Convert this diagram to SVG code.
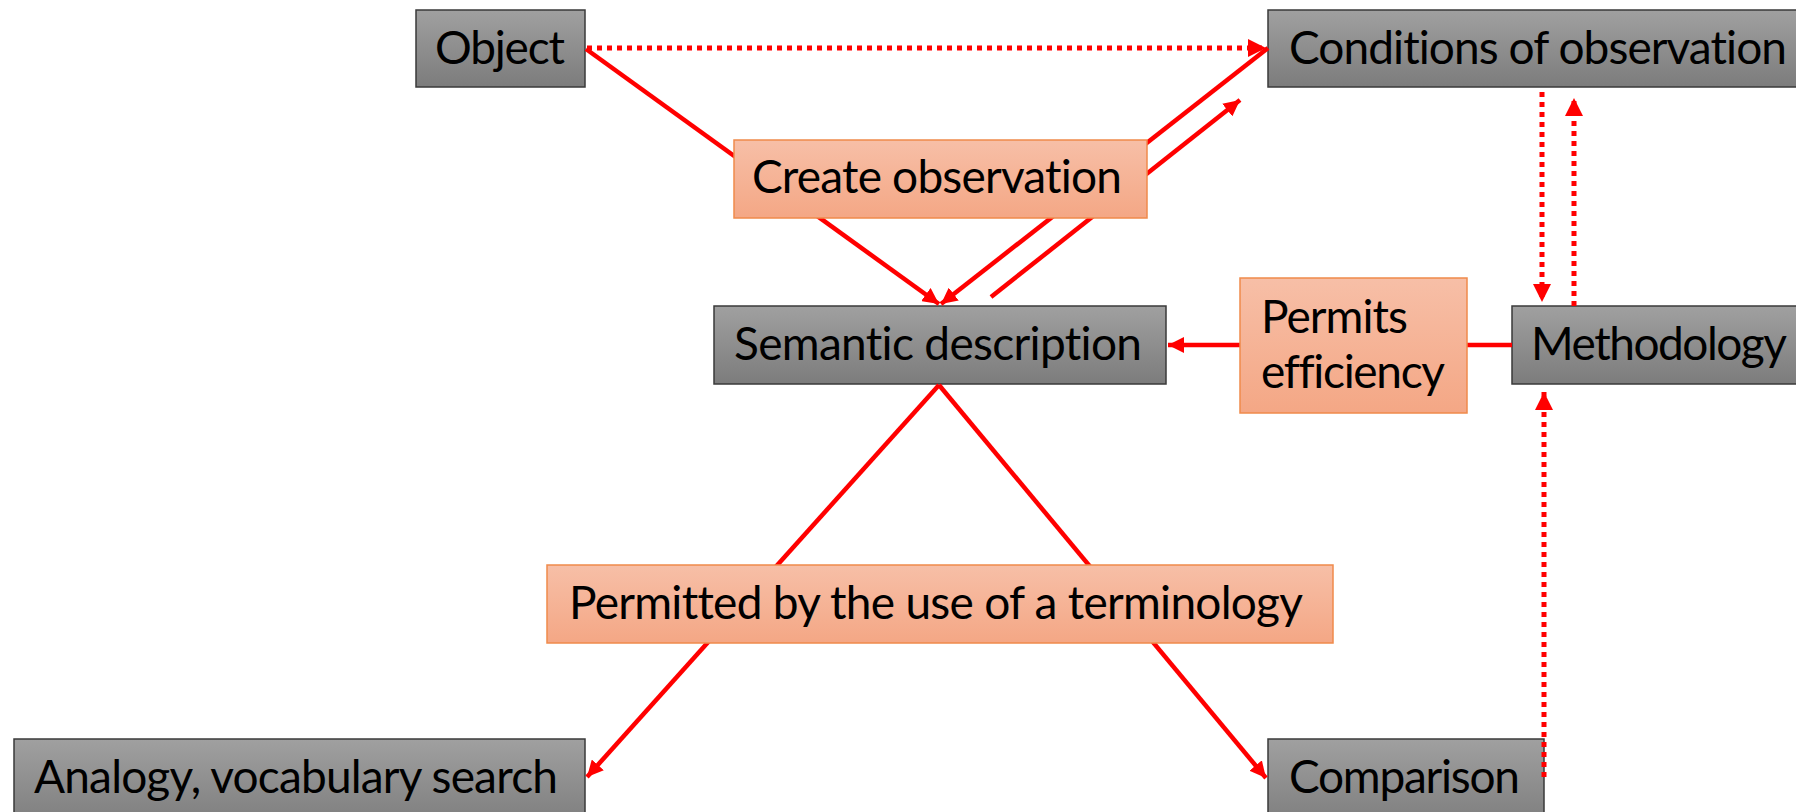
<svg xmlns="http://www.w3.org/2000/svg" width="1796" height="812" viewBox="0 0 1796 812">
  <style>
    .gray { fill: url(#gGray); stroke: #3a3a3a; stroke-width: 1.5; }
    .orange { fill: url(#gOrange); stroke: #f08a4b; stroke-width: 1.5; }
    .t { font-family: Lato, "Open Sans", "Liberation Sans", sans-serif; font-size: 46px; fill: #000; font-variant-ligatures: none; font-feature-settings: "liga" 0, "clig" 0; }
    .solid { stroke: #ff0000; stroke-width: 4.5; fill: none; }
    .dot { stroke: #ff0000; stroke-width: 5; fill: none; stroke-dasharray: 5 5; }
  </style>
  <defs>
    <linearGradient id="gGray" x1="0" y1="0" x2="0" y2="1">
      <stop offset="0" stop-color="#a0a0a0"/>
      <stop offset="1" stop-color="#7c7c7c"/>
    </linearGradient>
    <linearGradient id="gOrange" x1="0" y1="0" x2="0" y2="1">
      <stop offset="0" stop-color="#f7bfa7"/>
      <stop offset="1" stop-color="#f4a785"/>
    </linearGradient>
    <marker id="arr" viewBox="0 0 10 10" refX="10" refY="5" markerWidth="3.6" markerHeight="3.6" orient="auto" markerUnits="strokeWidth">
      <path d="M0,0 L10,5 L0,10 z" fill="#ff0000"/>
    </marker>
  </defs>

  <g id="node-object">
    <rect class="gray" x="416" y="10" width="169" height="77"/>
    <text class="t" x="435" y="64" textLength="130">Object</text>
  </g>
  <g id="node-conditions">
    <rect class="gray" x="1268" y="10" width="540" height="77"/>
    <text class="t" x="1289" y="64" textLength="498">Conditions of observation</text>
  </g>
  <g id="node-semantic">
    <rect class="gray" x="714" y="306" width="452" height="78"/>
    <text class="t" x="734" y="360" textLength="408">Semantic description</text>
  </g>
  <g id="node-methodology">
    <rect class="gray" x="1512" y="306" width="300" height="78"/>
    <text class="t" x="1531" y="360" textLength="256">Methodology</text>
  </g>
  <g id="node-analogy">
    <rect class="gray" x="14" y="739" width="571" height="90"/>
    <text class="t" x="34" y="793" textLength="524">Analogy, vocabulary search</text>
  </g>
  <g id="node-comparison">
    <rect class="gray" x="1268" y="739" width="276" height="90"/>
    <text class="t" x="1289" y="793" textLength="231">Comparison</text>
  </g>

  <g id="connectors">
    <line class="dot" x1="587" y1="48" x2="1266" y2="48" marker-end="url(#arr)"/>
    <line class="solid" x1="586" y1="49" x2="939" y2="304" marker-end="url(#arr)"/>
    <line class="solid" x1="1268" y1="48" x2="941" y2="304" marker-end="url(#arr)"/>
    <line class="solid" x1="991" y1="297" x2="1240" y2="100" marker-end="url(#arr)"/>
    <line class="solid" x1="1512" y1="345" x2="1168" y2="345" marker-end="url(#arr)"/>
    <line class="dot" x1="1542" y1="92" x2="1542" y2="302" marker-end="url(#arr)"/>
    <line class="dot" x1="1574" y1="306" x2="1574" y2="98" marker-end="url(#arr)"/>
    <line class="dot" x1="1544" y1="777" x2="1544" y2="392" marker-end="url(#arr)"/>
    <line class="solid" x1="939" y1="385" x2="587" y2="777" marker-end="url(#arr)"/>
    <line class="solid" x1="939" y1="385" x2="1266" y2="778" marker-end="url(#arr)"/>
  </g>

  <g id="node-create">
    <rect class="orange" x="734" y="140" width="413" height="78"/>
    <text class="t" x="752" y="193" textLength="370">Create observation</text>
  </g>
  <g id="node-permits">
    <rect class="orange" x="1240" y="278" width="227" height="135"/>
    <text class="t" x="1261" y="333" textLength="147">Permits</text>
    <text class="t" x="1261" y="388" textLength="184">efficiency</text>
  </g>
  <g id="node-permitted">
    <rect class="orange" x="547" y="565" width="786" height="78"/>
    <text class="t" x="569" y="619" textLength="734">Permitted by the use of a terminology</text>
  </g>
</svg>
